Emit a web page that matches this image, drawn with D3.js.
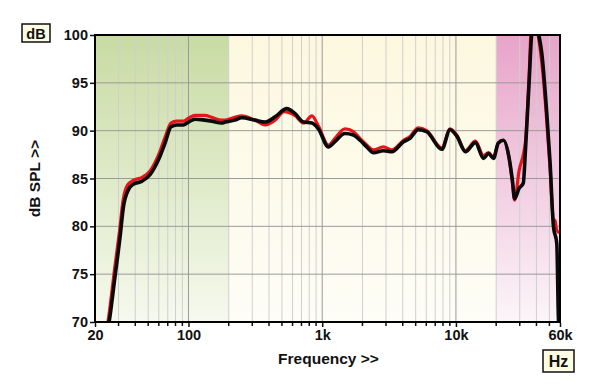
<!DOCTYPE html>
<html><head><meta charset="utf-8">
<script src="https://cdn.jsdelivr.net/npm/d3@7"></script>
<style>
html,body{margin:0;padding:0;background:#fff;}
svg{display:block;font-family:"Liberation Sans",Arial,sans-serif;font-weight:bold;}
</style></head>
<body><div id="chart"></div>
<script>
// ---- data ----
const freqBlack = [24,25.5,28.2,30.8,32.6,35.5,38.7,44.7,51.6,59.4,66.8,74,81.6,91.4,100,112,133,149,177,188,222,250,314,374,444,544,624,726,838,936,1112,1246,1480,1710,1916,2152,2416,2870,3320,4060,4540,5220,6040,7840,9040,10180,11780,13980,16060,17520,19100,20720,22680,24860,26420,27460,29740,31860,33200,35320,36900,39000,41380,43860,47780,50600,53580,56780,58360,60000];
const splBlack = [68,70,74.7,78.9,82.0,83.8,84.4,84.7,85.4,86.9,88.7,90.4,90.6,90.6,90.9,91.2,91.1,91.0,90.8,90.9,91.1,91.35,91.1,90.9,91.45,92.3,91.8,90.9,90.8,90.2,88.3,88.85,89.7,89.55,89.0,88.3,87.7,87.9,87.8,88.85,89.2,90.1,89.9,88.05,90.1,89.4,87.8,88.75,87.1,87.6,87.1,88.7,89.0,87.3,84.85,82.9,84.0,84.5,88.3,95.3,100.2,101.5,100.2,98.1,91.8,86.6,80.0,78.2,70.5,68];
const freqRed = [24,25.3,28,30.5,32.5,35,38.7,44.7,51.6,59.4,66.8,74,81.6,91.4,100,112,133,149,177,188,222,250,314,374,444,520,624,726,838,936,1112,1246,1480,1710,1916,2152,2416,2870,3320,4060,4540,5220,6040,7840,9040,10180,11780,13980,16060,17520,19100,20720,22680,24860,26420,27460,29740,31860,33200,35320,36500,39000,41380,42800,44500,47780,50600,53580,55000,56780,60000];
const splRed = [68.5,70.5,75.5,79.5,82.8,84.3,84.8,85.1,85.8,87.4,89.3,90.8,91.0,91.0,91.3,91.6,91.6,91.4,91.1,91.1,91.4,91.55,91.1,90.6,91.1,92.0,91.6,90.8,91.55,90.5,88.5,89.2,90.2,89.9,89.2,88.5,88.0,88.3,88.0,89.0,89.4,90.3,90.0,88.2,90.2,89.5,87.9,88.9,87.4,87.7,87.2,88.7,89.0,87.3,84.6,82.75,85.9,87.45,89.0,96.0,100.5,101.5,99.8,98.4,96.3,91.0,86.0,80.7,80.6,79.6,79.3];
const yTicks = [70,75,80,85,90,95,100];
const xTickValues = [20,100,1000,10000,60000];
const xTickLabels = ["20","100","1k","10k","60k"];
const minorFreqs = [30,40,50,60,70,80,90,200,300,400,500,600,700,800,900,2000,3000,4000,5000,6000,7000,8000,9000,20000,30000,40000,50000];
const bands = [{from:20,to:200,top:"#c8dba3",bottom:"#f6f9ee"},{from:200,to:20000,top:"#fcf8df",bottom:"#fefdf6"},{from:20000,to:60000,top:"#e7a4c9",bottom:"#fcf5f9"}];

// ---- layout ----
const W=600,H=389;
const m={l:95,r:40,t:35,b:67};
const x=d3.scaleLog().domain([20,60000]).range([m.l,W-m.r]);
const y=d3.scaleLinear().domain([70,100]).range([H-m.b,m.t]);

const svg=d3.select("#chart").append("svg").attr("width",W).attr("height",H);
const defs=svg.append("defs");
bands.forEach((b,i)=>{
  const g=defs.append("linearGradient").attr("id","g"+i).attr("x1",0).attr("y1",0).attr("x2",0).attr("y2",1);
  g.append("stop").attr("offset","0%").attr("stop-color",b.top);
  g.append("stop").attr("offset","100%").attr("stop-color",b.bottom);
});
defs.append("clipPath").attr("id","clip").append("rect")
  .attr("x",m.l).attr("y",m.t).attr("width",W-m.r-m.l).attr("height",H-m.b-m.t);

svg.selectAll("rect.band").data(bands).enter().append("rect")
  .attr("x",d=>x(d.from)).attr("y",m.t).attr("width",d=>x(d.to)-x(d.from)).attr("height",H-m.b-m.t)
  .attr("fill",(d,i)=>"url(#g"+i+")");

// grid
svg.selectAll("line.minor").data(minorFreqs).enter().append("line")
  .attr("x1",d=>x(d)).attr("x2",d=>x(d)).attr("y1",m.t).attr("y2",H-m.b)
  .attr("stroke","#cfcfcf").attr("stroke-width",1);
svg.selectAll("line.major").data([100,1000,10000]).enter().append("line")
  .attr("x1",d=>x(d)).attr("x2",d=>x(d)).attr("y1",m.t).attr("y2",H-m.b)
  .attr("stroke","#9a9a9a").attr("stroke-width",1);
svg.selectAll("line.h").data(yTicks.slice(1,-1)).enter().append("line")
  .attr("x1",m.l).attr("x2",W-m.r).attr("y1",d=>y(d)).attr("y2",d=>y(d))
  .attr("stroke","#9a9a9a").attr("stroke-width",1);

// curves
const line=d3.line().x(d=>x(d[0])).y(d=>y(d[1])).curve(d3.curveMonotoneX);
const gc=svg.append("g").attr("clip-path","url(#clip)");
gc.append("path").datum(freqRed.map((f,i)=>[f,splRed[i]])).attr("d",line)
  .attr("fill","none").attr("stroke","#e8141b").attr("stroke-width",3.2).attr("stroke-linejoin","round");
gc.append("path").datum(freqBlack.map((f,i)=>[f,splBlack[i]])).attr("d",line)
  .attr("fill","none").attr("stroke","#0a0a0a").attr("stroke-width",3.6).attr("stroke-linejoin","round");

// frame
svg.append("rect").attr("x",m.l).attr("y",m.t).attr("width",W-m.r-m.l).attr("height",H-m.b-m.t)
  .attr("fill","none").attr("stroke","#000").attr("stroke-width",2);

// axes
const yAxis=d3.axisLeft(y).tickValues(yTicks).tickSize(4).tickPadding(2);
const ya=svg.append("g").attr("transform",`translate(${m.l-1},0)`).call(yAxis);
ya.select(".domain").remove();
ya.selectAll("text").attr("font-size",14.5).attr("font-weight","bold").attr("fill","#111").attr("font-family","Liberation Sans, Arial, sans-serif");
ya.selectAll("line").attr("stroke","#111").attr("stroke-width",1.5);

const xAxis=d3.axisBottom(x).tickValues(xTickValues).tickFormat((d,i)=>xTickLabels[i]).tickSize(4).tickPadding(3);
const xa=svg.append("g").attr("transform",`translate(0,${H-m.b+1})`).call(xAxis);
xa.select(".domain").remove();
xa.selectAll("text").attr("font-size",14.5).attr("font-weight","bold").attr("fill","#111").attr("font-family","Liberation Sans, Arial, sans-serif");
xa.selectAll("line").attr("stroke","#111").attr("stroke-width",1.5);
svg.selectAll("line.mt").data(minorFreqs).enter().append("line")
  .attr("x1",d=>x(d)).attr("x2",d=>x(d)).attr("y1",H-m.b+1).attr("y2",H-m.b+4)
  .attr("stroke","#111").attr("stroke-width",1.5);

// titles
svg.append("text").attr("x",(m.l+W-m.r)/2+1).attr("y",364).attr("text-anchor","middle")
  .attr("font-size",15.5).attr("fill","#111").text("Frequency >>");
svg.append("text").attr("transform",`translate(40,${(m.t+H-m.b)/2}) rotate(-90)`).attr("text-anchor","middle")
  .attr("font-size",15.5).attr("fill","#111").text("dB SPL >>");

// unit boxes
svg.append("rect").attr("x",22).attr("y",24).attr("width",28).attr("height",18)
  .attr("fill","#fdfbe2").attr("stroke","#111").attr("stroke-width",1.5);
svg.append("text").attr("x",36).attr("y",38.5).attr("text-anchor","middle").attr("font-size",14.5).attr("fill","#111").text("dB");
svg.append("rect").attr("x",543).attr("y",350).attr("width",31).attr("height",22)
  .attr("fill","#fdfbe2").attr("stroke","#111").attr("stroke-width",1.5);
svg.append("text").attr("x",558.5).attr("y",367).attr("text-anchor","middle").attr("font-size",16).attr("fill","#111").text("Hz");
</script></body></html>
